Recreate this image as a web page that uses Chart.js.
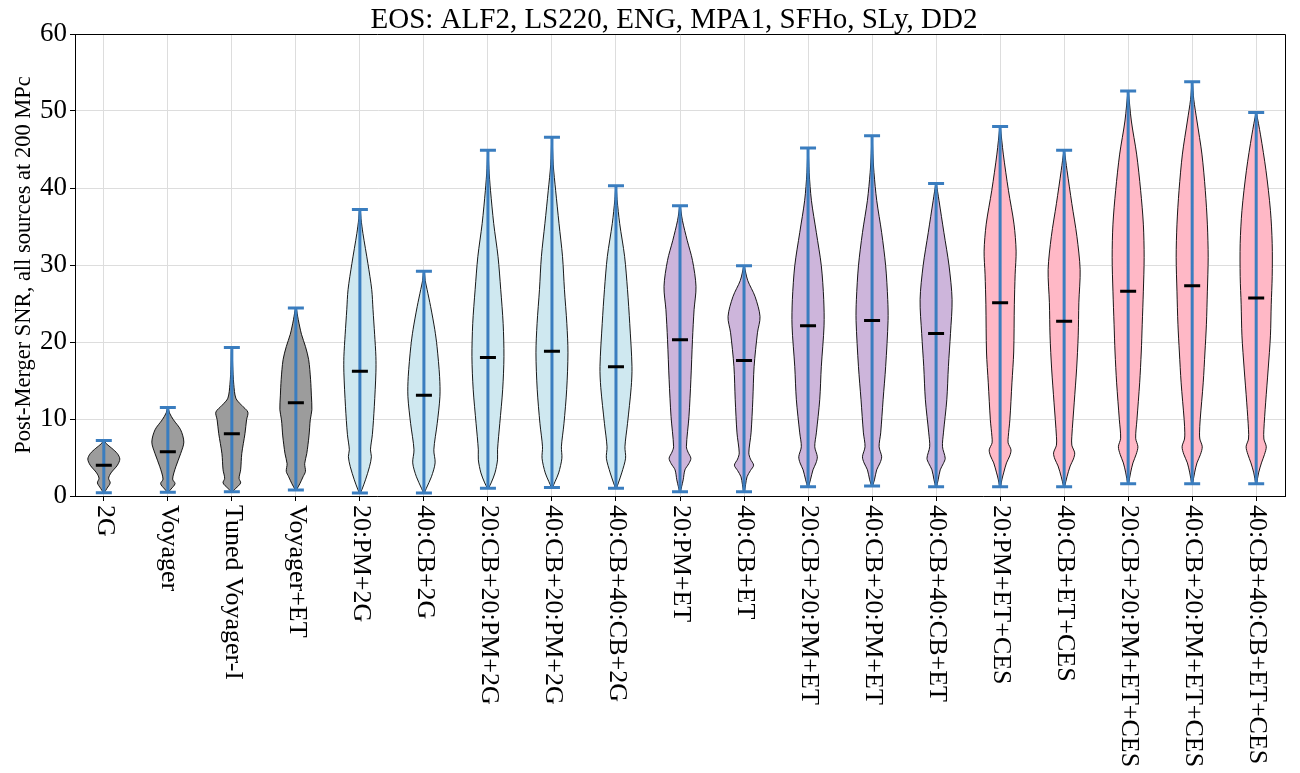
<!DOCTYPE html>
<html>

<head>
  <meta name="viewport" content="width=device-width, initial-scale=1">
  <title>Post-Merger SNR violins</title>
  <style>
    body { margin: 0; background: white; }
    #box { width: 1300px; height: 773px; }
  </style>
</head>

<body>
  <script src="https://cdn.jsdelivr.net/npm/chart.js@4.4.1/dist/chart.umd.min.js"></script>

  <div id="box"><canvas id="myChart" width="1300" height="773"></canvas></div>

  <script>
    // detector networks
    const categories = ['2G', 'Voyager', 'Tuned Voyager-I', 'Voyager+ET', '20:PM+2G', '40:CB+2G',
      '20:CB+20:PM+2G', '40:CB+20:PM+2G', '40:CB+40:CB+2G', '20:PM+ET', '40:CB+ET',
      '20:CB+20:PM+ET', '40:CB+20:PM+ET', '40:CB+40:CB+ET', '20:PM+ET+CES', '40:CB+ET+CES',
      '20:CB+20:PM+ET+CES', '40:CB+20:PM+ET+CES', '40:CB+40:CB+ET+CES'];
    const groups = [0, 0, 0, 0, 1, 1, 1, 1, 1, 2, 2, 2, 2, 2, 3, 3, 3, 3, 3];
    const groupColors = ['#9c9c9c', '#cfe8f0', '#cdb5db', '#ffb8c6'];

    const mins = [0.43, 0.5, 0.56, 0.78, 0.4, 0.4, 1.0, 1.1, 1.0, 0.56, 0.56, 1.2, 1.3, 1.2, 1.2, 1.2, 1.6, 1.6, 1.6];
    const maxs = [7.2, 11.5, 19.3, 24.4, 37.2, 29.2, 44.9, 46.6, 40.3, 37.7, 29.9, 45.2, 46.8, 40.6, 48.0, 44.9, 52.6, 53.8, 49.8];
    const medians = [4.0, 5.75, 8.1, 12.1, 16.2, 13.1, 18.0, 18.8, 16.8, 20.3, 17.6, 22.1, 22.8, 21.1, 25.1, 22.7, 26.6, 27.3, 25.7];

    // density outline of each violin: [SNR, relative half width]
    const shapes = [
      [[0.43,0.03],[1,0.2],[1.7,0.4],[2.3,0.3],[3,0.45],[4,0.85],[4.8,1],[5.5,0.85],[6.2,0.5],[6.8,0.15],[7.2,0.02]],
      [[0.5,0.03],[0.9,0.2],[1.6,0.45],[2.2,0.3],[3.8,0.5],[5.5,0.8],[7,1],[8.6,0.8],[9.9,0.35],[10.8,0.1],[11.5,0.02]],
      [[0.56,0.03],[1,0.25],[1.7,0.55],[2.3,0.45],[3.4,0.55],[5.5,0.62],[8.1,0.82],[9.9,0.92],[10.9,1],[11.8,0.6],[12.7,0.25],[14.5,0.12],[17,0.05],[19.3,0.02]],
      [[0.78,0.03],[1.6,0.25],[2.5,0.45],[3.2,0.6],[4.2,0.55],[5.5,0.68],[7.8,0.82],[9.9,0.9],[11.2,1],[13,0.97],[15.1,0.92],[17.7,0.8],[19.4,0.6],[21,0.35],[22.9,0.15],[24.4,0.02]],
      [[0.4,0.03],[0.8,0.12],[2.1,0.35],[3.8,0.6],[5.1,0.72],[6,0.66],[8,0.78],[11.6,0.9],[16,1],[18.1,1],[21,0.92],[24.2,0.82],[26.8,0.74],[30.2,0.5],[34.1,0.19],[36,0.07],[37.2,0.02]],
      [[0.4,0.03],[1,0.15],[2.5,0.47],[4.3,0.7],[6,0.62],[9.4,0.83],[12.9,1],[15.5,0.98],[19.4,0.82],[21.6,0.68],[24.6,0.42],[26.8,0.2],[28,0.08],[29.2,0.02]],
      [[1,0.03],[1.7,0.2],[3,0.44],[4.7,0.6],[6,0.6],[9.4,0.74],[13.8,0.92],[18.1,1],[22.4,0.95],[26.8,0.8],[31.1,0.63],[35.4,0.36],[39.7,0.16],[42.5,0.06],[44.9,0.01]],
      [[1.1,0.03],[1.9,0.2],[3,0.42],[4.9,0.62],[6.4,0.59],[9.4,0.75],[13.8,0.92],[18.6,1],[22.4,0.93],[26.8,0.78],[31.1,0.66],[35.4,0.44],[39.7,0.23],[43,0.08],[46.6,0.01]],
      [[1,0.03],[1.7,0.15],[3,0.36],[4.9,0.6],[6.4,0.56],[9.4,0.72],[14.1,0.95],[16.8,1],[22.4,0.86],[26.8,0.72],[31.1,0.54],[35.4,0.23],[38.5,0.07],[40.3,0.01]],
      [[0.56,0.03],[1.2,0.1],[2.1,0.2],[3.4,0.31],[4.2,0.55],[4.9,0.68],[5.7,0.5],[6.4,0.4],[10.3,0.56],[15.1,0.68],[20.3,0.78],[24.2,0.88],[27.2,1],[30.6,0.78],[33.2,0.45],[35.8,0.15],[37.7,0.01]],
      [[0.56,0.03],[1.5,0.1],[2.5,0.19],[3.3,0.4],[4.0,0.6],[4.8,0.4],[5.6,0.3],[8.2,0.44],[12.5,0.55],[16.8,0.63],[21.2,0.84],[23.3,1],[25.9,0.69],[28,0.23],[29.9,0.01]],
      [[1.2,0.03],[2.1,0.15],[3.4,0.31],[4.3,0.5],[5.1,0.58],[6.4,0.42],[8.2,0.52],[12.5,0.73],[16.8,0.83],[22.1,1],[25.5,0.98],[29.9,0.83],[34.2,0.52],[38.4,0.21],[42,0.07],[45.2,0.01]],
      [[1.3,0.03],[2.1,0.15],[3.4,0.29],[4.3,0.5],[5.1,0.6],[6.4,0.44],[8.2,0.54],[12.5,0.69],[16.8,0.85],[22.8,1],[25.5,0.98],[29.9,0.85],[34.2,0.6],[38.4,0.29],[42,0.12],[44.5,0.05],[46.8,0.01]],
      [[1.2,0.03],[2.1,0.13],[3.4,0.26],[4.2,0.45],[4.9,0.57],[6.4,0.4],[8.2,0.46],[12.5,0.67],[16.8,0.77],[21.1,0.9],[25.5,1],[29.9,0.81],[34.2,0.49],[38.4,0.18],[40.6,0.01]],
      [[1.2,0.03],[2.2,0.12],[3,0.22],[4.3,0.4],[5.2,0.6],[6,0.68],[6.9,0.5],[7.7,0.51],[9.9,0.61],[14.7,0.74],[18.7,0.85],[24.9,0.89],[28.8,0.94],[31.8,1],[35.3,0.87],[39.7,0.52],[44.4,0.2],[48,0.01]],
      [[1.2,0.03],[2.5,0.18],[3.9,0.38],[4.8,0.58],[5.6,0.66],[6.6,0.48],[7.7,0.48],[12.1,0.63],[16.5,0.78],[20.8,0.88],[25.1,0.92],[29.4,1],[33.7,0.8],[38,0.48],[42.3,0.18],[44.9,0.01]],
      [[1.6,0.03],[3,0.15],[4.3,0.3],[5.4,0.5],[6.4,0.61],[7.5,0.47],[9.9,0.55],[14.7,0.72],[18.7,0.82],[22.3,0.88],[26.6,0.95],[31,1],[35.3,0.95],[39.7,0.78],[44.4,0.53],[48.7,0.2],[52.6,0.01]],
      [[1.6,0.03],[3,0.15],[4.3,0.3],[5.4,0.52],[6.4,0.63],[7.4,0.48],[8.2,0.46],[9.9,0.5],[14.7,0.69],[18.7,0.8],[22.3,0.89],[26.6,0.95],[31,1],[35.3,0.95],[39.7,0.82],[44.4,0.61],[48.7,0.3],[51.5,0.1],[53.8,0.01]],
      [[1.6,0.03],[3,0.15],[4.3,0.33],[5.4,0.52],[6.4,0.63],[7.4,0.48],[8.6,0.48],[12.1,0.59],[16.5,0.75],[20.8,0.89],[24.9,0.94],[28.5,1],[32.8,1],[37.1,0.89],[42.3,0.61],[46.9,0.27],[49.8,0.01]]
    ];

    const yTicks = [0, 10, 20, 30, 40, 50, 60];
    const title = 'EOS: ALF2, LS220, ENG, MPA1, SFHo, SLy, DD2';
    const yTitle = 'Post-Merger SNR, all sources at 200 MPc';

    const halfWidth = 0.25;   // violin width 0.5 in category units
    const capHalf = 0.125;
    const serif = '"Liberation Serif", "DejaVu Serif", serif';

    // build datasets
    var datasets = [];
    shapes.forEach(function (shape, i) {
      var x = i + 1;
      var pts = [];
      shape.forEach(function (p) { pts.push({ x: x + p[1] * halfWidth, y: p[0] }); });
      shape.slice().reverse().forEach(function (p) { pts.push({ x: x - p[1] * halfWidth, y: p[0] }); });
      datasets.push({
        data: pts,
        backgroundColor: groupColors[groups[i]],
        borderColor: 'rgba(0,0,0,0.9)',
        borderWidth: 1,
        fill: 'shape',
        tension: 0.3,
        pointRadius: 0,
        order: 3
      });
    });

    var whisk = [];
    var med = [];
    categories.forEach(function (c, i) {
      var x = i + 1;
      whisk.push({ x: x, y: mins[i] }, { x: x, y: maxs[i] }, { x: x, y: null });
      whisk.push({ x: x - capHalf, y: maxs[i] }, { x: x + capHalf, y: maxs[i] }, { x: x, y: null });
      whisk.push({ x: x - capHalf, y: mins[i] }, { x: x + capHalf, y: mins[i] }, { x: x, y: null });
      med.push({ x: x - capHalf, y: medians[i] }, { x: x + capHalf, y: medians[i] }, { x: x, y: null });
    });
    datasets.push({ data: whisk, borderColor: '#3a7dbf', borderWidth: 3, borderCapStyle: 'butt',
      pointRadius: 0, fill: false, spanGaps: false, order: 2 });
    datasets.push({ data: med, borderColor: '#000000', borderWidth: 3, borderCapStyle: 'butt',
      pointRadius: 0, fill: false, spanGaps: false, order: 1 });

    // title, rotated category labels and top/right frame
    const extras = {
      id: 'extras',
      afterDraw: function (chart) {
        var ctx = chart.ctx;
        var area = chart.chartArea;
        var xs = chart.scales.x;
        ctx.save();
        ctx.strokeStyle = '#000';
        ctx.lineWidth = 1;
        ctx.beginPath();
        ctx.moveTo(area.left, area.top + 0.5);
        ctx.lineTo(area.right + 0.5, area.top + 0.5);
        ctx.lineTo(area.right + 0.5, area.bottom);
        ctx.stroke();

        ctx.fillStyle = '#000';
        ctx.font = '29px ' + serif;
        ctx.textAlign = 'center';
        ctx.textBaseline = 'alphabetic';
        ctx.fillText(title, (area.left + area.right) / 2 - 6, 28);

        ctx.font = '26px ' + serif;
        ctx.textAlign = 'left';
        ctx.textBaseline = 'middle';
        categories.forEach(function (c, i) {
          var px = xs.getPixelForValue(i + 1);
          ctx.save();
          ctx.translate(px + 1, area.bottom + 9);
          ctx.rotate(Math.PI / 2);
          ctx.fillText(c, 0, 0);
          ctx.restore();
        });
        ctx.restore();
      }
    };

    var chart = new Chart(document.getElementById('myChart'), {
      type: 'line',
      data: { datasets: datasets },
      plugins: [extras],
      options: {
        responsive: false,
        animation: false,
        layout: { padding: { top: 34, right: 15, left: 0, bottom: 0 } },
        plugins: { legend: { display: false }, tooltip: { enabled: false } },
        scales: {
          x: {
            type: 'linear',
            min: 0.55,
            max: 19.45,
            afterBuildTicks: function (s) { s.ticks = categories.map(function (c, i) { return { value: i + 1 }; }); },
            afterFit: function (s) { s.height = 277; },
            ticks: { display: false },
            grid: { color: '#dddddd', lineWidth: 1, tickLength: 5, tickColor: '#000' },
            border: { color: '#000', width: 1 }
          },
          y: {
            min: 0,
            max: 60,
            afterBuildTicks: function (s) { s.ticks = yTicks.map(function (v) { return { value: v }; }); },
            afterFit: function (s) { s.width = 75; },
            ticks: { color: '#000', font: { family: serif, size: 27 }, padding: 3 },
            grid: { color: '#dddddd', lineWidth: 1, tickLength: 5, tickColor: '#000' },
            border: { color: '#000', width: 1 },
            title: { display: true, text: yTitle, color: '#000', font: { family: serif, size: 22.5 },
              padding: { top: 11, bottom: 0 } }
          }
        }
      }
    });
  </script>
</body>

</html>
